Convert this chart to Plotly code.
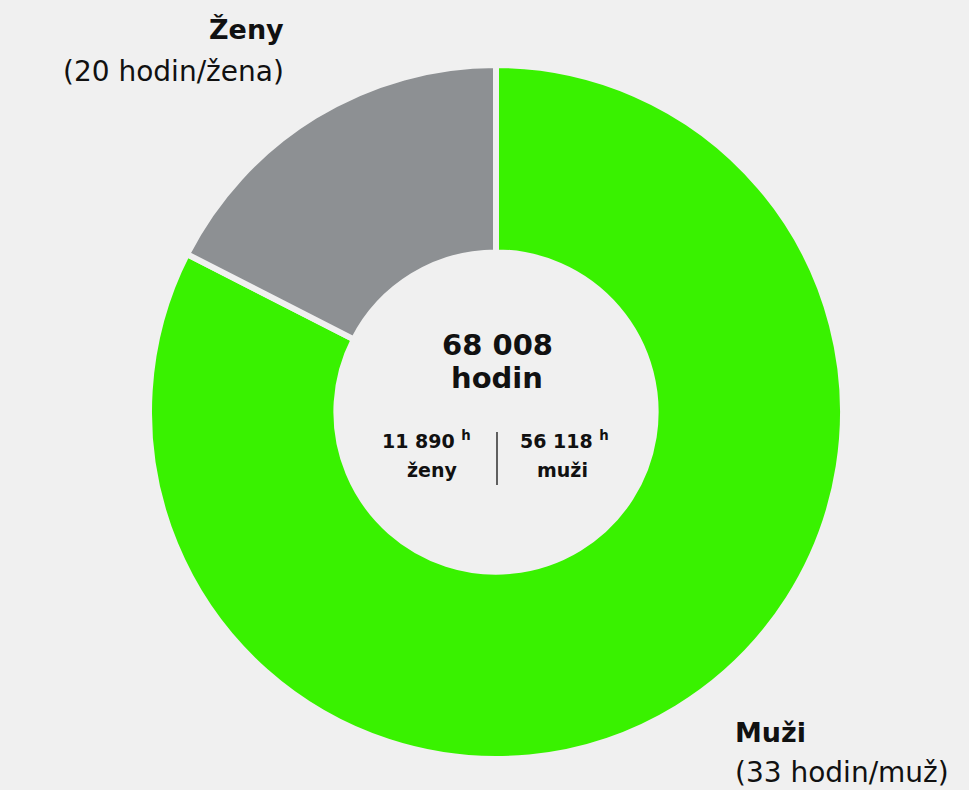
import plotly.graph_objects as go

# Hours of activity split by gender
labels = ["Ženy", "Muži"]
hours = [11890, 56118]
per_person = ["20 hodin/žena", "33 hodin/muž"]
colors = ["#8d9093", "#39f200"]

total = sum(hours)


def fmt(n):
    return f"{n:,}".replace(",", " ")


BG = "#f0f0f0"
FONT = "'DejaVu Sans', 'Noto Sans', sans-serif"
INK = "#111"
W, H = 969, 790

# men first, drawn clockwise from 12 o'clock, so the women's slice ends at the top
order = [1, 0]
fig = go.Figure(
    go.Pie(
        labels=[labels[i] for i in order],
        values=[hours[i] for i in order],
        hole=0.46,
        sort=False,
        direction="clockwise",
        rotation=0,
        marker=dict(colors=[colors[i] for i in order], line=dict(color=BG, width=6)),
        textinfo="none",
        hoverinfo="skip",
        showlegend=False,
        domain=dict(x=[149 / W, 843 / W], y=[(H - 759) / H, (H - 65) / H]),
    )
)


def px(x):
    return x / W


def py(y):
    return 1 - y / H


def label(x, y, text, size, anchor="center"):
    return dict(x=px(x), y=py(y), text=text, xanchor=anchor, yanchor="middle",
                xref="paper", yref="paper", showarrow=False,
                font=dict(size=size, color=INK, family=FONT))


ann = [
    # outer labels
    label(286, 30, f"<b>{labels[0]}</b>", 27, "right"),
    label(286, 71, f"({per_person[0]})", 28, "right"),
    label(733, 732, f"<b>{labels[1]}</b>", 27, "left"),
    label(733, 772, f"({per_person[1]})", 28, "left"),
    # centre labels
    label(497, 345, f"<b>{fmt(total)}</b>", 29),
    label(497, 378, "<b>hodin</b>", 29),
    label(426, 440, f"<b>{fmt(hours[0])} <sup>h</sup></b>", 19),
    label(432, 470, "<b>ženy</b>", 19),
    label(564, 440, f"<b>{fmt(hours[1])} <sup>h</sup></b>", 19),
    label(562, 470, "<b>muži</b>", 19),
]

fig.update_layout(
    width=W,
    height=H,
    margin=dict(l=0, r=0, t=0, b=0),
    paper_bgcolor=BG,
    plot_bgcolor=BG,
    font=dict(family=FONT, color=INK),
    annotations=ann,
    shapes=[dict(type="line", xref="paper", yref="paper", x0=px(497), x1=px(497), y0=py(432), y1=py(485),
                 line=dict(color=INK, width=1.3))],
)

fig.write_html("out.html")
